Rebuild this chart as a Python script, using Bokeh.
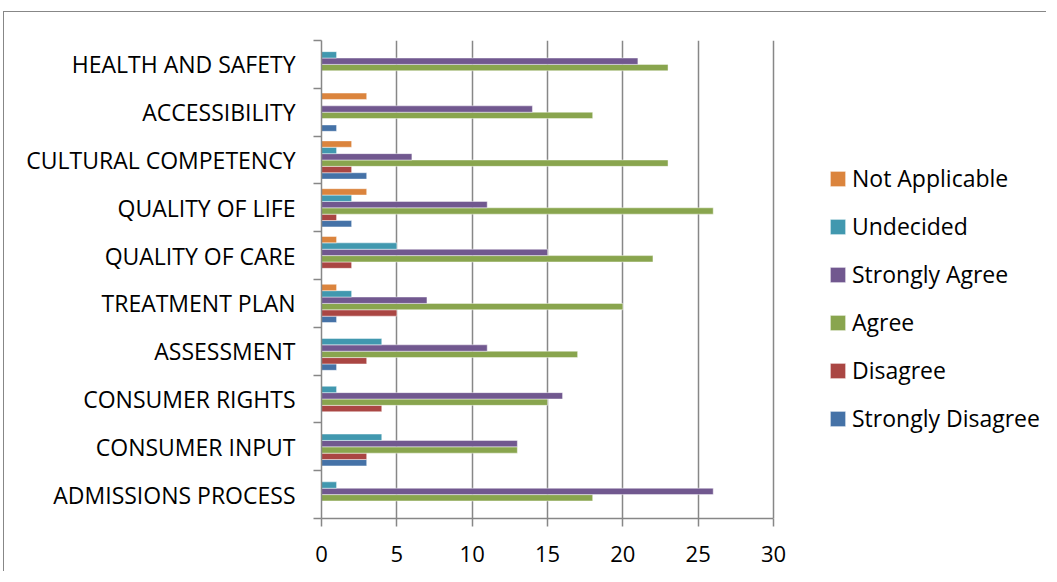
from bokeh.plotting import figure
from bokeh.models import (Range1d, FactorRange, LinearAxis, CategoricalAxis, FixedTicker,
                          Legend, LegendItem, ColumnDataSource)
from bokeh.transform import dodge
from bokeh.embed import file_html
from bokeh.resources import INLINE

categories = ["HEALTH AND SAFETY", "ACCESSIBILITY", "CULTURAL COMPETENCY", "QUALITY OF LIFE",
              "QUALITY OF CARE", "TREATMENT PLAN", "ASSESSMENT", "CONSUMER RIGHTS",
              "CONSUMER INPUT", "ADMISSIONS PROCESS"]
not_applicable = [0, 3, 2, 3, 1, 1, 0, 0, 0, 0]
undecided = [1, 0, 1, 2, 5, 2, 4, 1, 4, 1]
strongly_agree = [21, 14, 6, 11, 15, 7, 11, 16, 13, 26]
agree = [23, 18, 23, 26, 22, 20, 17, 15, 13, 18]
disagree = [0, 0, 2, 1, 2, 5, 3, 4, 3, 0]
strongly_disagree = [0, 1, 3, 2, 0, 1, 1, 0, 3, 0]
x_ticks = [0, 5, 10, 15, 20, 25, 30]

# (name, values, color) listed from bottom bar to top bar within each group
series = [
    ("Strongly Disagree", strongly_disagree, "#4572A7"),
    ("Disagree", disagree, "#AA4643"),
    ("Agree", agree, "#89A54E"),
    ("Strongly Agree", strongly_agree, "#71588F"),
    ("Undecided", undecided, "#4198AF"),
    ("Not Applicable", not_applicable, "#DB843D"),
]

FONT = "Open Sans"
GRID = "#878787"

W, H = 1043, 560
LEFT, RIGHT, TOP, BOTTOM = 317, 5, 28, 54
AXIS_PX = 452          # pixel length of the 0..30 value axis
frame_w = W - LEFT - RIGHT
x_max = 30 * frame_w / AXIS_PX   # frame extends right to host the legend

p = figure(width=W, height=H, output_backend="svg", toolbar_location=None,
           x_range=Range1d(0, x_max), y_range=FactorRange(factors=categories[::-1]),
           y_axis_location=None, min_border_left=LEFT, min_border_right=RIGHT,
           min_border_top=TOP, min_border_bottom=BOTTOM)
p.styles = {"margin-left": "3px", "margin-top": "11px",
            "border-left": "1px solid #878787", "border-top": "1px solid #878787"}
p.outline_line_color = None
p.background_fill_color = "white"
p.border_fill_color = "white"

src = ColumnDataSource(dict(cat=categories,
                            **{name.replace(" ", "_"): vals for name, vals, _ in series}))

bh = 0.1333
renderers = {}
for i, (name, vals, color) in enumerate(series):
    off = (i - 2.5) * bh
    r = p.hbar(y=dodge("cat", off, range=p.y_range), left=0, right=name.replace(" ", "_"),
               height=bh, source=src, fill_color=color, line_color="white",
               line_alpha=0.45, line_width=1)
    renderers[name] = r

# x axis / grid limited to 0..30
p.xaxis.bounds = (0, 30)
p.xaxis.ticker = FixedTicker(ticks=x_ticks)
p.xaxis.axis_line_color = GRID
p.xaxis.axis_line_width = 1.5
p.xaxis.major_tick_line_color = GRID
p.xaxis.major_tick_line_width = 1.5
p.xaxis.major_tick_out = 8
p.xaxis.major_tick_in = 0
p.xaxis.minor_tick_line_color = None
p.xaxis.major_label_text_font = FONT
p.xaxis.major_label_text_font_size = "22px"
p.xaxis.major_label_text_color = "black"
p.xaxis.major_label_standoff = 19
p.xgrid.ticker = FixedTicker(ticks=x_ticks)
p.xgrid.grid_line_color = GRID
p.xgrid.grid_line_width = 1.5
p.ygrid.grid_line_color = None

# left: tick marks at category boundaries (synthetic coords 0..N) as unlabeled minor ticks
tick_axis = LinearAxis(ticker=FixedTicker(ticks=[], minor_ticks=list(range(len(categories) + 1))),
                       axis_line_color=GRID, axis_line_width=1.5,
                       major_tick_line_color=None,
                       minor_tick_line_color=GRID, minor_tick_line_width=1.5,
                       minor_tick_out=8, minor_tick_in=0)
p.add_layout(tick_axis, "left")
cat_axis = CategoricalAxis(axis_line_color=None, major_tick_line_color=None,
                           minor_tick_line_color=None, major_label_text_font=FONT,
                           major_label_text_font_size="23px", major_label_text_color="black",
                           major_label_standoff=12)
p.add_layout(cat_axis, "left")

items = [LegendItem(label=name, renderers=[renderers[name]]) for name, _, _ in series[::-1]]
legend = Legend(items=items, location=(507, 84), glyph_width=19, glyph_height=19,
                label_standoff=5, spacing=16, padding=0, margin=0,
                border_line_color=None, background_fill_alpha=0,
                label_text_font=FONT, label_text_font_size="23px", label_text_color="black")
p.add_layout(legend)

open("out.html", "w").write(file_html(p, INLINE))
